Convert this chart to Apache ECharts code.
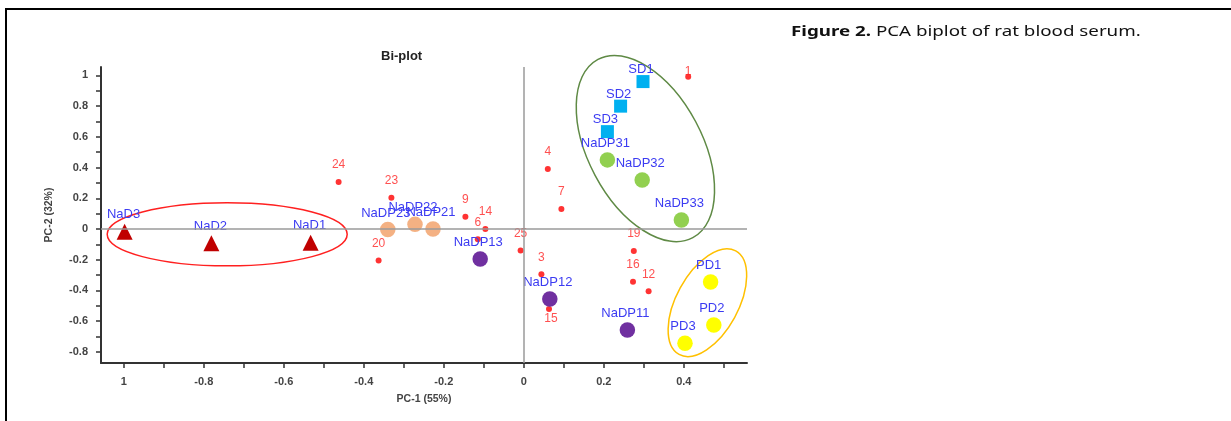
<!DOCTYPE html>
<html>
<head>
<meta charset="utf-8">
<script src="https://cdn.jsdelivr.net/npm/echarts@6/dist/echarts.min.js"></script>
<style>
  html, body { margin: 0; padding: 0; background: #fff; }
  #main { position: absolute; left: 0; top: 0; width: 1231px; height: 421px; }
  #frame { position: absolute; left: 5px; top: 8px; right: 0; bottom: 0;
           border-top: 2px solid #000; border-left: 2px solid #000; pointer-events: none; }
</style>
</head>
<body>
<div id="main"></div>
<div id="frame"></div>
<script>
// sample scores (PC-1, PC-2)
var sampleNames = ['NaD1', 'NaD2', 'NaD3',
                   'NaDP21', 'NaDP22', 'NaDP23',
                   'NaDP11', 'NaDP12', 'NaDP13',
                   'NaDP31', 'NaDP32', 'NaDP33',
                   'SD1', 'SD2', 'SD3',
                   'PD1', 'PD2', 'PD3'];
var samplePC1 = [-0.533, -0.781, -0.998,
                 -0.227, -0.272, -0.340,
                  0.259,  0.065, -0.109,
                  0.209,  0.296,  0.394,
                  0.298,  0.242,  0.209,
                  0.467,  0.475,  0.403];
var samplePC2 = [-0.089, -0.093, -0.018,
                  0.000,  0.030, -0.004,
                 -0.658, -0.456, -0.195,
                  0.450,  0.319,  0.059,
                  0.960,  0.800,  0.634,
                 -0.345, -0.625, -0.745];
var sampleGroup = ['NaD', 'NaD', 'NaD',
                   'NaDP2', 'NaDP2', 'NaDP2',
                   'NaDP1', 'NaDP1', 'NaDP1',
                   'NaDP3', 'NaDP3', 'NaDP3',
                   'SD', 'SD', 'SD',
                   'PD', 'PD', 'PD'];

// variable loadings
var varNames = ['1', '3', '4', '6', '7', '9', '12', '14', '15', '16', '19', '20', '23', '24', '25'];
var varPC1 = [0.411, 0.044, 0.060, -0.115, 0.094, -0.146, 0.312, -0.096, 0.063, 0.273, 0.275, -0.363, -0.331, -0.463, -0.008];
var varPC2 = [0.992, -0.295, 0.391, -0.067, 0.130, 0.080, -0.406, 0.000, -0.521, -0.343, -0.143, -0.206, 0.204, 0.306, -0.141];

// group ellipses: centre PC-1, centre PC-2, radius x, radius y (PC-1 units), tilt in degrees
var ellipses = [
  [-0.7415, -0.0345, 0.300, 0.079, 0],
  [0.304, 0.524, 0.1425, 0.2525, 28],
  [0.459, -0.480, 0.0775, 0.1475, -28.7]
];

// axis ticks and labels
var xTicks = [-1, -0.9, -0.8, -0.7, -0.6, -0.5, -0.4, -0.3, -0.2, -0.1, 0, 0.1, 0.2, 0.3, 0.4, 0.5];
var xLabelValues = [-1, -0.8, -0.6, -0.4, -0.2, 0, 0.2, 0.4];
var xLabelText = ['1', '-0.8', '-0.6', '-0.4', '-0.2', '0', '0.2', '0.4'];
var yTicks = [-0.8, -0.7, -0.6, -0.5, -0.4, -0.3, -0.2, -0.1, 0, 0.1, 0.2, 0.3, 0.4, 0.5, 0.6, 0.7, 0.8, 0.9, 1];
var yLabelValues = [-0.8, -0.6, -0.4, -0.2, 0, 0.2, 0.4, 0.6, 0.8, 1];
var yLabelText = ['-0.8', '-0.6', '-0.4', '-0.2', '0', '0.2', '0.4', '0.6', '0.8', '1'];

var myChart = echarts.init(document.getElementById('main'));
var font = 'Arial, "Liberation Sans", sans-serif';
var capFont = '"Noto Sans", sans-serif';

var groupStyle = {
  NaD:   { symbol: 'triangle', size: 16, color: '#c00000', offset: [-1, -17] },
  NaDP2: { symbol: 'circle', size: 15.5, color: '#f4b183', offset: [-2, -16.5] },
  NaDP1: { symbol: 'circle', size: 15.5, color: '#7030a0', offset: [-2, -16.5] },
  NaDP3: { symbol: 'circle', size: 15.5, color: '#92d050', offset: [-2, -16.5] },
  SD:    { symbol: 'rect', size: 13, color: '#00b0f0', offset: [-2, -12] },
  PD:    { symbol: 'circle', size: 15.5, color: '#ffff00', offset: [-2, -16.5] }
};
var ellipseColors = ['#ff2020', '#5f8a45', '#ffc000'];
var varLabelOffset = { '1': [0, -5], '15': [2, 10] };

function labelFor(value, values, texts) {
  for (var i = 0; i < values.length; i++) {
    if (Math.abs(values[i] - value) < 1e-6) return texts[i];
  }
  return '';
}

var series = [];

series.push({
  type: 'custom',
  coordinateSystem: 'cartesian2d',
  silent: true,
  z: 1,
  renderItem: function (params, api) {
    var c = api.coord([api.value(0), api.value(1)]);
    var unit = api.size([1, 0])[0];
    return {
      type: 'ellipse',
      x: c[0],
      y: c[1],
      rotation: api.value(4) * Math.PI / 180,
      shape: { cx: 0, cy: 0, rx: api.value(2) * unit, ry: api.value(3) * unit },
      style: { fill: 'none', stroke: ellipseColors[params.dataIndex], lineWidth: 1.5 }
    };
  },
  data: ellipses
});

var varData = [];
for (var i = 0; i < varNames.length; i++) {
  varData.push({
    name: varNames[i],
    value: [varPC1[i], varPC2[i]],
    label: { offset: varLabelOffset[varNames[i]] || [0, -17] }
  });
}
series.push({
  name: 'variables',
  type: 'scatter',
  z: 3,
  symbol: 'circle',
  symbolSize: 6,
  itemStyle: { color: '#ff0000' },
  label: {
    show: true,
    position: 'inside',
    formatter: '{b}',
    color: '#ff2424',
    fontSize: 12,
    fontFamily: font
  },
  markLine: {
    silent: true,
    symbol: 'none',
    label: { show: false },
    lineStyle: { color: '#9a9a9a', width: 1.5, type: 'solid' },
    data: [{ xAxis: 0 }, { yAxis: 0 }]
  },
  data: varData
});

Object.keys(groupStyle).forEach(function (g) {
  var st = groupStyle[g];
  var d = [];
  for (var i = 0; i < sampleNames.length; i++) {
    if (sampleGroup[i] === g) d.push({ name: sampleNames[i], value: [samplePC1[i], samplePC2[i]] });
  }
  series.push({
    name: g,
    type: 'scatter',
    z: 4,
    symbol: st.symbol,
    symbolSize: st.size,
    itemStyle: { color: st.color, opacity: 1 },
    label: {
      show: true,
      position: 'inside',
      offset: st.offset,
      formatter: '{b}',
      color: '#3b3bf2',
      fontSize: 13,
      fontFamily: font
    },
    data: d
  });
});

var option = {
  animation: false,
  backgroundColor: 'transparent',
  title: {
    text: 'Bi-plot',
    left: 376,
    top: 45,
    textStyle: { fontSize: 13, fontWeight: 'bold', color: '#222', fontFamily: font }
  },
  // caption is drawn a little wider than the font, like the source figure
  graphic: [{
    type: 'text',
    x: 791,
    y: 24,
    scaleX: 1.25,
    style: {
      text: '{b|Figure 2.} PCA biplot of rat blood serum.',
      font: 'normal 15px ' + capFont,
      fill: '#111',
      verticalAlign: 'top',
      rich: { b: { font: 'bold 15px ' + capFont, fill: '#111' } }
    }
  }],
  grid: { left: 101, top: 67, right: 484, bottom: 58, containLabel: false },
  xAxis: {
    type: 'value',
    min: -1.057,
    max: 0.558,
    name: 'PC-1 (55%)',
    nameLocation: 'middle',
    nameGap: 31,
    nameTextStyle: { fontSize: 10.5, fontWeight: 'bold', color: '#444', fontFamily: font },
    splitLine: { show: false },
    axisLine: { onZero: false, lineStyle: { color: '#333', width: 2 } },
    axisTick: { show: true, length: 5, customValues: xTicks, lineStyle: { color: '#333', width: 1.5 } },
    axisLabel: {
      customValues: xLabelValues,
      margin: 13,
      fontSize: 11,
      fontWeight: 'bold',
      color: '#444',
      fontFamily: font,
      formatter: function (v) { return labelFor(v, xLabelValues, xLabelText); }
    }
  },
  yAxis: {
    type: 'value',
    min: -0.873,
    max: 1.055,
    name: 'PC-2 (32%)',
    nameLocation: 'middle',
    nameGap: 46,
    nameTextStyle: { fontSize: 10.5, fontWeight: 'bold', color: '#444', fontFamily: font },
    splitLine: { show: false },
    axisLine: { onZero: false, lineStyle: { color: '#333', width: 2 } },
    axisTick: { show: true, length: 5, customValues: yTicks, lineStyle: { color: '#333', width: 1.5 } },
    axisLabel: {
      customValues: yLabelValues,
      margin: 13,
      fontSize: 11,
      fontWeight: 'bold',
      color: '#444',
      fontFamily: font,
      formatter: function (v) { return labelFor(v, yLabelValues, yLabelText); }
    }
  },
  series: series
};

myChart.setOption(option);
</script>
</body>
</html>
